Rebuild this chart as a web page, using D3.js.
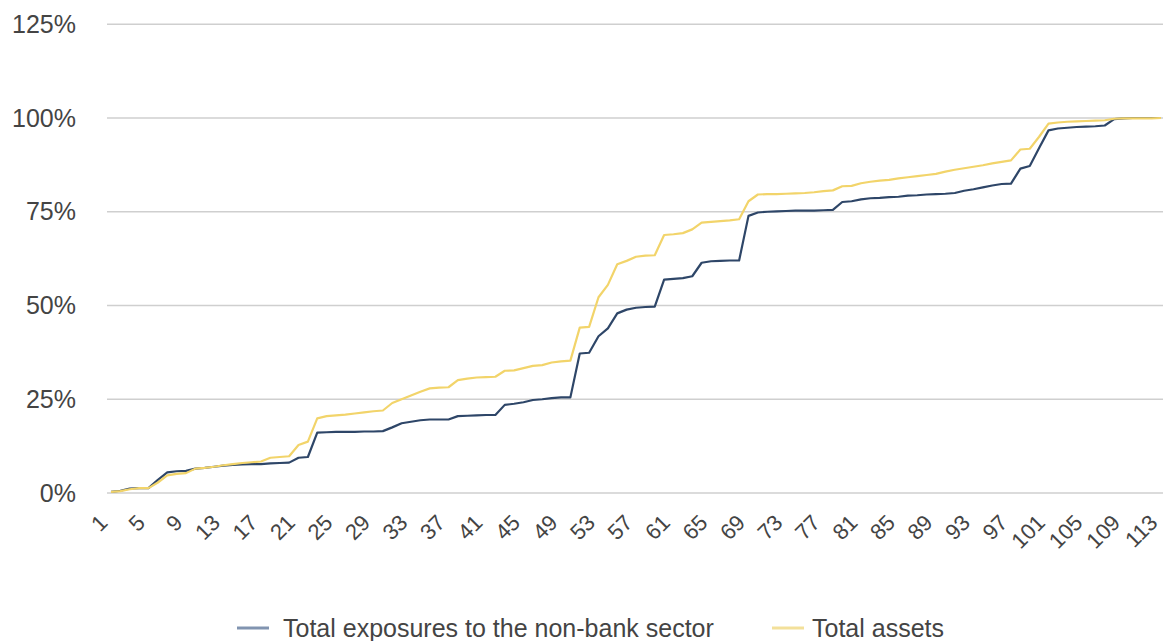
<!DOCTYPE html>
<html>
<head>
<meta charset="utf-8">
<script src="https://cdn.jsdelivr.net/npm/d3@7"></script>
<style>
  html, body { margin: 0; padding: 0; background: #fff; }
  svg { display: block; font-family: "Liberation Sans", Arial, sans-serif; }
</style>
</head>
<body>
<svg id="chart" width="1163" height="641"></svg>
<script>
// ---- Data (cumulative shares, %) ----
const categories = d3.range(1, 114); // 1..113
const seriesNames = ["Total exposures to the non-bank sector", "Total assets"];
const exposures = [
  0.3, 0.6, 1.2, 1.3, 1.3, 3.5, 5.5, 5.8, 5.9, 6.5,
  6.7, 7.0, 7.3, 7.5, 7.6, 7.7, 7.7, 7.9, 8.0, 8.1,
  9.4, 9.6, 16.1, 16.2, 16.3, 16.3, 16.3, 16.4, 16.4, 16.5,
  17.5, 18.6, 19.0, 19.4, 19.6, 19.6, 19.6, 20.5, 20.6, 20.7,
  20.8, 20.8, 23.5, 23.8, 24.2, 24.8, 25.0, 25.3, 25.5, 25.5,
  37.2, 37.4, 41.8, 43.9, 47.9, 48.9, 49.4, 49.6, 49.7, 56.9,
  57.1, 57.3, 57.8, 61.4, 61.8, 61.9, 62.0, 62.0, 73.9, 74.8,
  75.0, 75.1, 75.2, 75.3, 75.3, 75.3, 75.4, 75.5, 77.6, 77.8,
  78.3, 78.6, 78.7, 78.9, 79.0, 79.3, 79.4, 79.6, 79.7, 79.8,
  80.0, 80.6, 81.0, 81.5, 82.0, 82.4, 82.5, 86.5, 87.2, 92.0,
  96.7, 97.2, 97.4, 97.6, 97.7, 97.8, 98.0, 99.7, 99.9, 100.0,
  100.0, 100.0, 100.0
];
const assets = [
  0.3, 0.5, 1.0, 1.3, 1.3, 2.8, 4.7, 5.1, 5.3, 6.5,
  6.7, 7.0, 7.4, 7.7, 8.0, 8.2, 8.4, 9.4, 9.6, 9.8,
  12.8, 13.7, 19.9, 20.5, 20.7, 20.9, 21.2, 21.5, 21.8, 22.0,
  24.0, 25.0, 26.0, 27.0, 27.9, 28.1, 28.2, 30.1, 30.5, 30.8,
  30.9, 31.0, 32.6, 32.7, 33.3, 33.9, 34.1, 34.8, 35.1, 35.3,
  44.1, 44.3, 52.2, 55.5, 61.0, 61.9, 63.0, 63.3, 63.4, 68.8,
  69.0, 69.3, 70.3, 72.1, 72.3, 72.5, 72.7, 73.0, 77.8, 79.6,
  79.7, 79.7, 79.8, 79.9, 80.0, 80.2, 80.5, 80.7, 81.8, 81.9,
  82.6, 83.0, 83.3, 83.5, 83.9, 84.2, 84.5, 84.8, 85.1, 85.7,
  86.2, 86.6, 87.0, 87.4, 87.9, 88.3, 88.7, 91.6, 91.8, 95.0,
  98.5, 98.8, 99.0, 99.1, 99.2, 99.3, 99.4, 99.8, 99.9, 99.9,
  99.9, 99.9, 100.0
];
const yTicks = [0, 25, 50, 75, 100, 125];
const xTickLabels = categories.filter(d => (d - 1) % 4 === 0);

// ---- Layout ----
const svg = d3.select("#chart");
const x = d3.scaleLinear().domain([1, 113]).range([111, 1161]);
const y = d3.scaleLinear().domain([0, 125]).range([493, 24.25]);
const gridX0 = 107, gridX1 = 1163;
const colors = ["#2e4668", "#f2d46a"];
const legendColors = ["#8194b0", "#f3e09a"];
const textColor = "#444";

// gridlines
svg.append("g").selectAll("line").data(yTicks).join("line")
  .attr("x1", gridX0).attr("x2", gridX1)
  .attr("y1", d => y(d)).attr("y2", d => y(d))
  .attr("stroke", "#cfcfcf").attr("stroke-width", 1.5);

// y labels
const yAxis = d3.axisLeft(y).tickValues(yTicks).tickFormat(d => d + "%").tickSize(0).tickPadding(0);
const yg = svg.append("g").attr("transform", "translate(76,0)").call(yAxis);
yg.select(".domain").remove();
yg.selectAll("text").attr("font-size", 25).attr("fill", textColor)
  .attr("font-family", "'Liberation Sans', Arial, sans-serif");

// x labels
const xAxis = d3.axisBottom(x).tickValues(xTickLabels).tickFormat(d3.format("d")).tickSize(0);
const xg = svg.append("g").call(xAxis);
xg.select(".domain").remove();
xg.selectAll(".tick").attr("transform", d => `translate(${x(d) - 2},524)`);
xg.selectAll("text")
  .attr("font-size", 22).attr("fill", textColor)
  .attr("font-family", "'Liberation Sans', Arial, sans-serif")
  .attr("text-anchor", "end").attr("x", 0).attr("y", 0).attr("dy", 0)
  .attr("transform", "rotate(-45)");

// lines
const series = [exposures, assets];
const line = d3.line().x((d, i) => x(categories[i])).y(d => y(d));
[0, 1].forEach(k => {
  svg.append("path").datum(series[k])
    .attr("fill", "none").attr("stroke", colors[k]).attr("stroke-width", 2.2)
    .attr("stroke-linejoin", "round")
    .attr("d", line);
});

// legend
const legend = svg.append("g").attr("font-size", 25).attr("fill", textColor);
const legendItems = [
  { name: seriesNames[0], x0: 237, tx: 283 },
  { name: seriesNames[1], x0: 772, tx: 812 }
];
legendItems.forEach((it, k) => {
  legend.append("line").attr("x1", it.x0).attr("x2", it.x0 + 32)
    .attr("y1", 628).attr("y2", 628)
    .attr("stroke", legendColors[k]).attr("stroke-width", 3);
  legend.append("text").attr("x", it.tx).attr("y", 637).text(it.name);
});
</script>
</body>
</html>
